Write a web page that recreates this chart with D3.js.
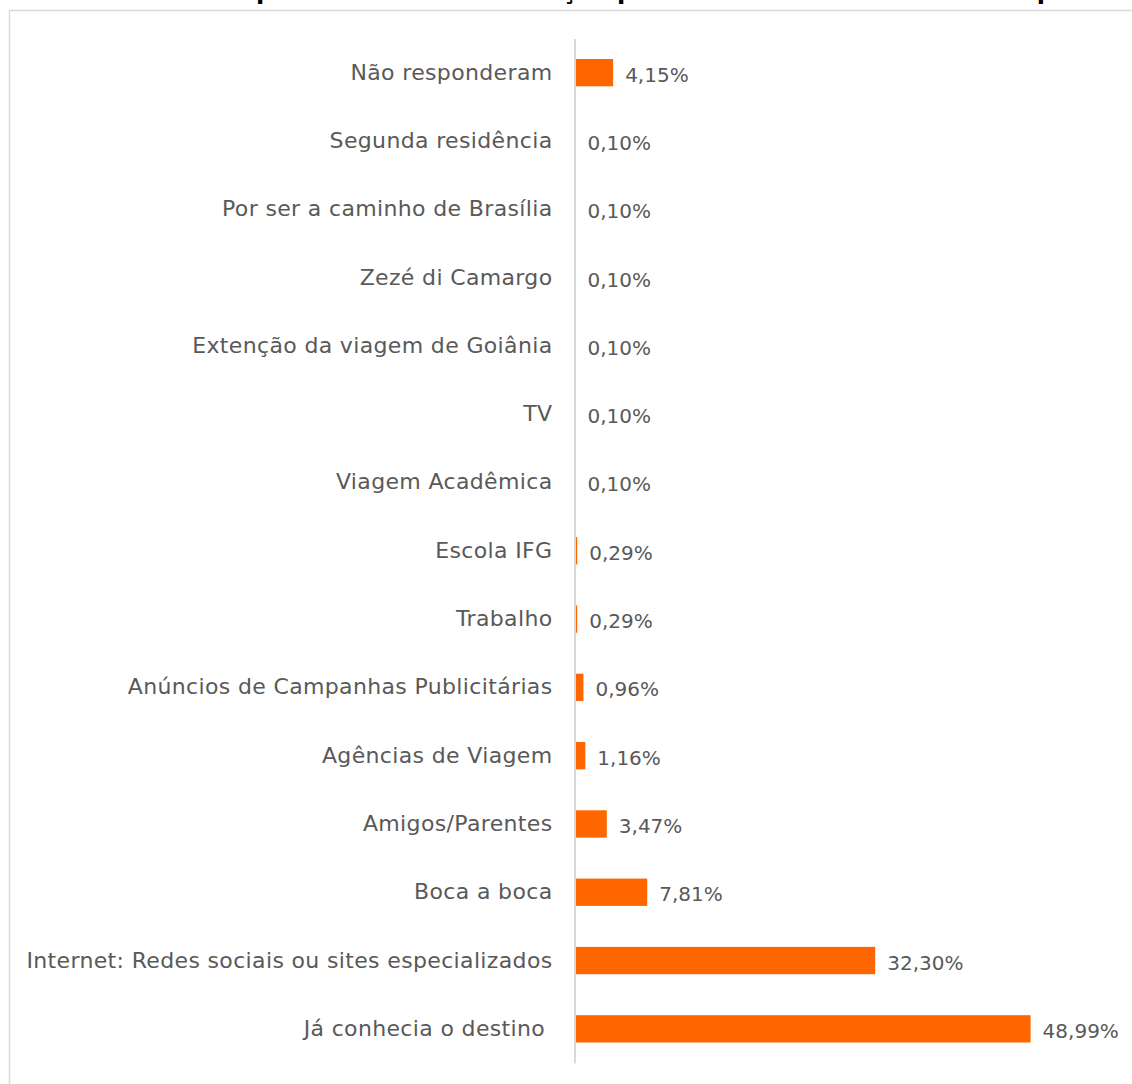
<!DOCTYPE html>
<html>
<head>
<meta charset="utf-8">
<script src="https://cdn.jsdelivr.net/npm/d3@7"></script>
<style>
  body { margin: 0; background: #fff; }
  svg { display: block; }
</style>
</head>
<body>
<div id="box"></div>
<script>
// categories top to bottom, as in the picture
var categories = [
  "Não responderam",
  "Segunda residência",
  "Por ser a caminho de Brasília",
  "Zezé di Camargo",
  "Extenção da viagem de Goiânia",
  "TV",
  "Viagem Acadêmica",
  "Escola IFG",
  "Trabalho",
  "Anúncios de Campanhas Publicitárias",
  "Agências de Viagem",
  "Amigos/Parentes",
  "Boca a boca",
  "Internet: Redes sociais ou sites especializados",
  "Já conhecia o destino "
];
var values = [4.15, 0.10, 0.10, 0.10, 0.10, 0.10, 0.10, 0.29, 0.29, 0.96, 1.16, 3.47, 7.81, 32.30, 48.99];
var title = "Gráfico 11 – Principais fontes de informação para escolha do destino Pirenópolis";

var width = 1132, height = 1084;
var orange = "#ff6600";
var textGray = "#595959";

var svg = d3.select("#box").append("svg")
    .attr("width", width)
    .attr("height", height);

// chart frame (runs off the page to the right and bottom)
svg.append("rect")
    .attr("x", 9.5)
    .attr("y", 10.5)
    .attr("width", 1200)
    .attr("height", 1200)
    .style("fill", "none")
    .style("stroke", "#d9d9d9")
    .style("stroke-width", 1.5);

// title, mostly cut off at the top edge
svg.append("text")
    .attr("x", 12)
    .attr("y", -1)
    .style("font-family", "'DejaVu Sans', sans-serif")
    .style("font-weight", "bold")
    .style("font-size", "24px")
    .style("fill", "#000")
    .text(title);

var y = d3.scaleBand()
    .domain(categories)
    .range([38.5, 1063])
    .paddingInner(0.6)
    .paddingOuter(0.3);

var x = d3.scaleLinear()
    .domain([0, 50])
    .range([574.5, 1040]);

var font = "'DejaVu Sans', sans-serif";

// bars
svg.selectAll(".bar")
    .data(categories)
    .enter().append("rect")
    .attr("class", "bar")
    .attr("x", x(0))
    .attr("y", function(d) { return y(d); })
    .attr("width", function(d, i) { return x(values[i]) - x(0); })
    .attr("height", y.bandwidth())
    .style("fill", orange);

// vertical axis line
var yAxis = d3.axisLeft(y).tickSize(0).tickPadding(22);
var axisG = svg.append("g")
    .attr("transform", "translate(" + x(0) + ",0)")
    .call(yAxis);
axisG.select(".domain")
    .style("stroke", "#d9d9d9")
    .style("stroke-width", 2);
axisG.selectAll("text")
    .style("font-family", font)
    .style("font-size", "22px")
    .style("letter-spacing", "0.35px")
    .style("fill", textGray)
    .style("white-space", "pre");

// value labels
svg.selectAll(".val")
    .data(categories)
    .enter().append("text")
    .attr("class", "val")
    .attr("x", function(d, i) { return x(values[i]) + 12; })
    .attr("y", function(d) { return y(d) + y.bandwidth() / 2 + 2; })
    .attr("dy", "0.35em")
    .style("font-family", font)
    .style("font-size", "20px")
    .style("fill", textGray)
    .text(function(d, i) { return values[i].toFixed(2).replace(".", ",") + "%"; });
</script>
</body>
</html>
